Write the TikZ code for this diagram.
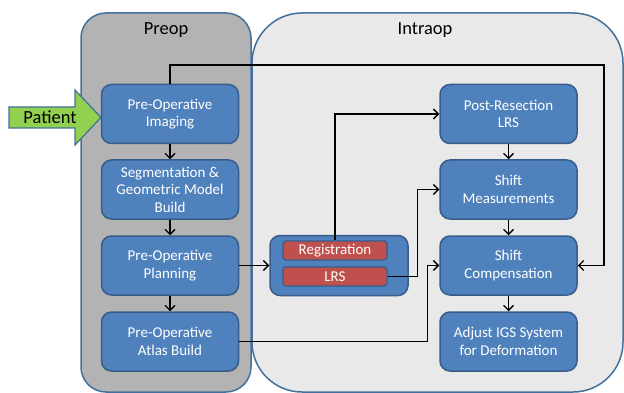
\documentclass[tikz,border=0pt]{standalone}
\usepackage{fontspec}
\setmainfont{Carlito}
\usetikzlibrary{arrows.meta}
\definecolor{boxblue}{HTML}{4F81BD}
\definecolor{boxedge}{HTML}{385D8A}
\definecolor{boxred}{HTML}{C0504D}
\definecolor{panedge}{HTML}{41719C}
\definecolor{preopgray}{HTML}{B3B3B3}
\definecolor{intragray}{HTML}{E9E9E9}
\definecolor{patgreen}{HTML}{92D050}
\tikzset{
  stage/.style={draw=boxedge,fill=boxblue,line width=1.5pt,rounded corners=10pt,
    text=white,align=center,minimum width=137pt,minimum height=59pt,inner sep=0pt,
    font=\fontsize{15}{17.6}\selectfont},
  subbox/.style={draw=boxedge,fill=boxred,line width=1.2pt,rounded corners=3pt,
    text=white,minimum width=104pt,minimum height=19pt,inner sep=0pt,
    font=\fontsize{15}{17.6}\selectfont},
  conn/.style={->,line width=1.4pt,black},
  >={Straight Barb[length=5pt,width=10pt]}
}
\begin{document}
\begin{tikzpicture}[x=1pt,y=-1pt]
  \useasboundingbox (0,0) rectangle (624,393);
  % phases
  \draw[fill=intragray,draw=panedge,line width=1.5pt,rounded corners=50pt] (252,13) rectangle (623,392);
  \draw[fill=preopgray,draw=panedge,line width=1.5pt,rounded corners=25pt] (81,13) rectangle (251,392);
  \node[font=\fontsize{18.5}{20}\selectfont] (preop) at (166,30) {Preop};
  \node[font=\fontsize{18.5}{20}\selectfont] (intraop) at (425,30) {Intraop};
  % patient
  \draw[fill=patgreen,draw=panedge,line width=1.2pt,line join=miter]
    (9,107) -- (75,107) -- (75,90) -- (101,117.5) -- (75,145) -- (75,128) -- (9,128) -- cycle;
  \node[font=\fontsize{18.5}{20}\selectfont] (patient) at (50,117.5) {Patient};
  % preop stages
  \node[stage] (imaging) at (170,114) {Pre-Operative\\Imaging};
  \node[stage] (segment) at (170,189.5) {Segmentation \&\\Geometric Model\\Build};
  \node[stage] (planning) at (170,265.5) {Pre-Operative\\Planning};
  \node[stage] (atlas) at (170,341.5) {Pre-Operative\\Atlas Build};
  % intraop stages
  \node[stage] (postlrs) at (508.5,114) {Post-Resection\\LRS};
  \node[stage] (shiftmeas) at (508.5,189.5) {Shift\\Measurements};
  \node[stage] (shiftcomp) at (508.5,265.5) {Shift\\Compensation};
  \node[stage] (adjust) at (508.5,341.5) {Adjust IGS System\\for Deformation};
  \node[stage,minimum width=138pt,minimum height=60pt] (intra) at (339,265.5) {};
  \node[subbox] (reg) at (335,250.5) {Registration};
  \node[subbox] (lrs) at (335,276.5) {LRS};
  \coordinate (toploop) at (604,65);
  % connectors
  \draw[conn] (imaging) -- (segment);
  \draw[conn] (segment) -- (planning);
  \draw[conn] (planning) -- (atlas);
  \draw[conn] (postlrs) -- (shiftmeas);
  \draw[conn] (shiftmeas) -- (shiftcomp);
  \draw[conn] (shiftcomp) -- (adjust);
  \draw[conn] (planning.east) -- (intra.west);
  \draw[conn] (imaging.north) |- (toploop) |- (shiftcomp.east);
  \draw[conn] (reg.north) |- (postlrs.west);
  \draw[conn] (lrs.east) -- ++(30,0) |- (shiftmeas.west);
  \draw[conn] (atlas.east) -- ++(188,0) |- (shiftcomp.west);
\end{tikzpicture}
\end{document}
